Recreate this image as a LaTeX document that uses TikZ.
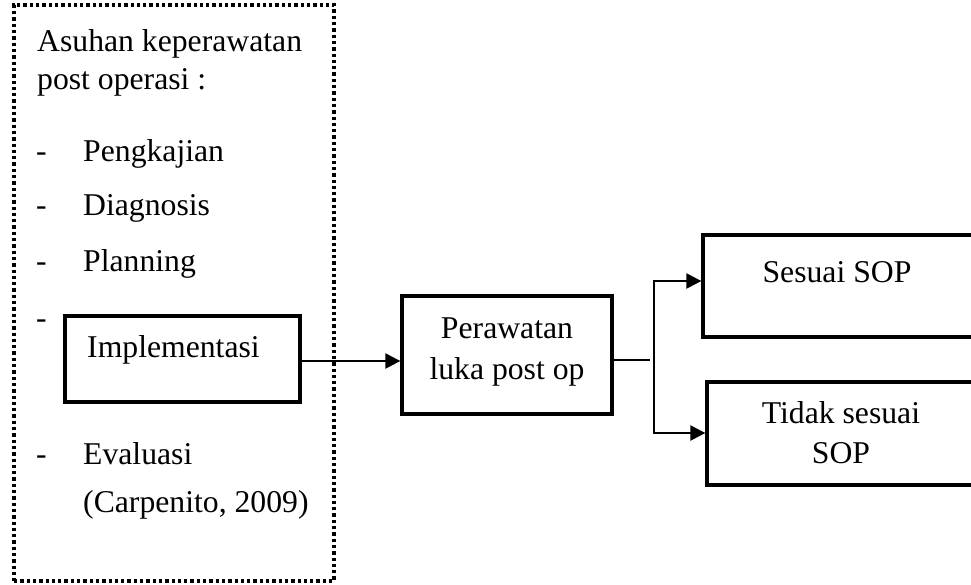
\documentclass[tikz,border=0pt]{standalone}
\usepackage{fontspec}
\setmainfont{Liberation Serif}
\usetikzlibrary{arrows.meta}
\begin{document}
\begin{tikzpicture}[x=1pt,y=-1pt,
  txt/.style={font=\fontsize{31.7}{38}\selectfont, inner sep=0pt, anchor=base west},
  ctxt/.style={txt, anchor=base},
  box/.style={draw, line width=3.3pt, inner sep=0pt},
  dotbox/.style={draw, line width=3.3pt, dash pattern=on 3.3pt off 3pt, inner sep=0pt},
  arr/.style={line width=2.3pt, -{Triangle[length=15pt,width=15pt]}},
  conn/.style={line width=2.3pt}]
\useasboundingbox (0,0) rectangle (971,584);
\clip (0,0) rectangle (971,584);
% left dotted frame
\node[dotbox, minimum width=320pt, minimum height=576pt] (frame) at (174,293) {};
\node[txt] (t1) at (37,51) {Asuhan keperawatan};
\node[txt] (t2) at (37,89) {post operasi :};
\node[txt] (d1) at (36,161) {-};
\node[txt] (i1) at (83,161) {Pengkajian};
\node[txt] (d2) at (36,215) {-};
\node[txt] (i2) at (83,215) {Diagnosis};
\node[txt] (d3) at (36,271) {-};
\node[txt] (i3) at (83,271) {Planning};
\node[txt] (d4) at (36,328) {-};
\node[box, minimum width=235pt, minimum height=86pt] (impl) at (182.5,359) {};
\node[txt] (timpl) at (87,357) {Implementasi};
\node[txt] (d5) at (36,464) {-};
\node[txt] (i5) at (83,464) {Evaluasi};
\node[txt] (ref) at (83,512) {(Carpenito, 2009)};
% middle box
\node[box, minimum width=210pt, minimum height=118pt] (rawat) at (507,355) {};
\node[ctxt] (r1) at (507,338) {Perawatan};
\node[ctxt] (r2) at (507,379) {luka post op};
% right boxes
\node[box, minimum width=272pt, minimum height=102pt] (sesuai) at (839,286) {};
\node[ctxt] (s1) at (837,282) {Sesuai SOP};
\node[box, minimum width=268pt, minimum height=103pt] (tidak) at (841,433.5) {};
\node[ctxt] (u1) at (841,423) {Tidak sesuai};
\node[ctxt] (u2) at (841,463) {SOP};
% connectors
\coordinate (ay) at (0,361);
\draw[arr] (impl.east |- ay) -- (rawat.west |- ay);
\coordinate (stub) at (650,360);
\coordinate (jt) at (654,281);
\coordinate (jb) at (654,433);
\draw[conn] (rawat.east |- stub) -- (stub);
\draw[arr] (jb) -- (jt) -- (jt -| sesuai.west);
\draw[arr] (jt) -- (jb) -- (jb -| tidak.west);
\end{tikzpicture}
\end{document}
